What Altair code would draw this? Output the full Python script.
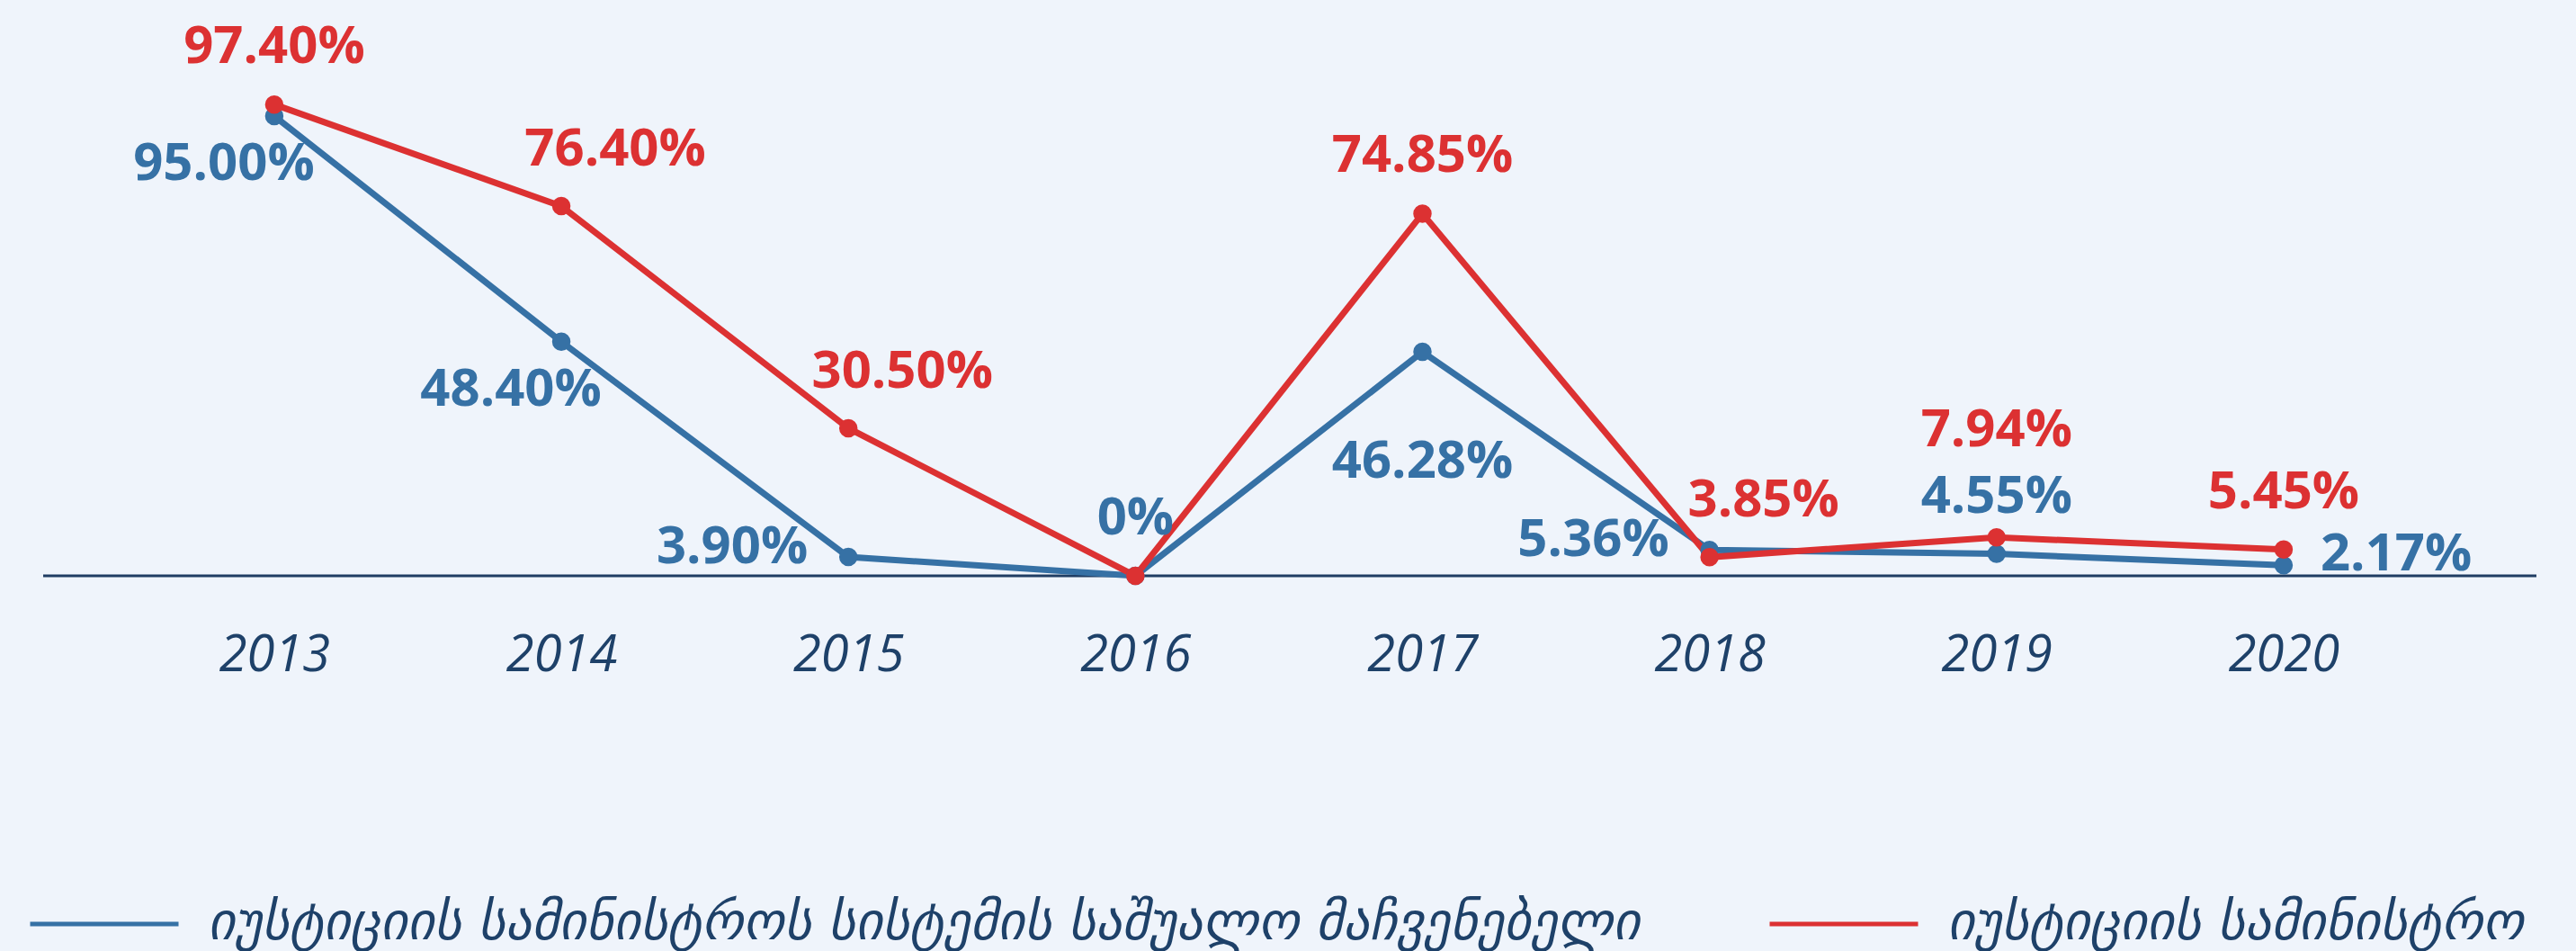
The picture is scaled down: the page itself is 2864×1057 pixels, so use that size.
import altair as alt
import pandas as pd

# ---- data ----
years = ["2013", "2014", "2015", "2016", "2017", "2018", "2019", "2020"]
system_avg = [95.00, 48.40, 3.90, 0.00, 46.28, 5.36, 4.55, 2.17]
ministry = [97.40, 76.40, 30.50, 0.00, 74.85, 3.85, 7.94, 5.45]
series_names = [
    "იუსტიციის სამინისტროს სისტემის საშუალო მაჩვენებელი",
    "იუსტიციის სამინისტრო",
]
# where each value label sits relative to its point
system_label_side = ["below-left", "below-left", "left", "above", "far-below", "left", "above", "right"]
ministry_label_side = ["above", "above-right", "above-right", "none", "above", "above-right", "high-above", "above"]

series_colors = ["#3671a5", "#dc3132"]
navy = "#1e4169"
bg = "#eff4fb"


def fmt(v):
    return "0%" if v == 0 else f"{v:.2f}%"


rows = []
for name, vals, sides in [(series_names[0], system_avg, system_label_side),
                          (series_names[1], ministry, ministry_label_side)]:
    for y, v, s in zip(years, vals, sides):
        rows.append({"year": y, "series": name, "value": v, "side": s, "label": fmt(v)})
df = pd.DataFrame(rows)

x_enc = alt.X(
    "year:O",
    sort=years,
    scale=alt.Scale(type="point", padding=0.987, align=0.484),
    axis=alt.Axis(
        title=None, domain=False, ticks=False, tickSize=0, labelAngle=0,
        labelFont="Open Sans", labelFontStyle="italic", labelFontSize=56,
        labelColor=navy, labelPadding=88, labelBaseline="middle",
    ),
)
y_enc = alt.Y("value:Q", scale=alt.Scale(domain=[0, 119], nice=False, zero=True), axis=None)
color_scale = alt.Scale(domain=series_names, range=series_colors)

base = alt.Chart(df)

baseline = alt.Chart(pd.DataFrame({"v": [0]})).mark_rule(color="#1f3d63", strokeWidth=3).encode(
    y=alt.Y("v:Q", scale=alt.Scale(domain=[0, 119], nice=False), axis=None),
    x=alt.value(48), x2=alt.value(2820),
)

lines = base.mark_line(strokeWidth=7).encode(
    x=x_enc, y=y_enc,
    color=alt.Color(
        "series:N", scale=color_scale, sort=series_names,
        legend=alt.Legend(
            title=None, orient="none", legendX=31, legendY=942, direction="horizontal",
            symbolType="stroke", symbolSize=27225, symbolStrokeWidth=5,
            labelFont="DejaVu Sans", labelFontStyle="italic", labelFontSize=58,
            labelColor=navy, labelOffset=30, columnPadding=133, labelLimit=3000,
        ),
    ),
    detail="series:N",
)

points = base.mark_point(filled=True, size=420, opacity=1).encode(
    x=x_enc, y=y_enc, color=alt.Color("series:N", scale=color_scale, legend=None),
)

placements = {
    "above": dict(dx=0, dy=-63, align="center"),
    "above-right": dict(dx=60, dy=-62, align="center"),
    "high-above": dict(dx=0, dy=-118, align="center"),
    "below-left": dict(dx=-56, dy=54, align="center"),
    "left": dict(dx=-45, dy=-10, align="right"),
    "right": dict(dx=41, dy=-11, align="left"),
    "far-below": dict(dx=0, dy=123, align="center"),
}

text_layers = []
for side, p in placements.items():
    text_layers.append(
        base.transform_filter(alt.datum.side == side).mark_text(
            font="Open Sans", fontWeight="bold", fontSize=58, baseline="middle", **p
        ).encode(
            x=x_enc, y=y_enc, text="label:N",
            color=alt.Color("series:N", scale=color_scale, legend=None),
        )
    )

chart = alt.layer(baseline, lines, points, *text_layers).properties(
    width=2864, height=640,
    autosize=alt.AutoSizeParams(type="none"),
    padding={"left": 0, "top": 0, "right": 0, "bottom": 417},
).configure(background=bg).configure_view(stroke=None)

chart.save("out.html", embed_options={"renderer": "svg", "actions": False})
